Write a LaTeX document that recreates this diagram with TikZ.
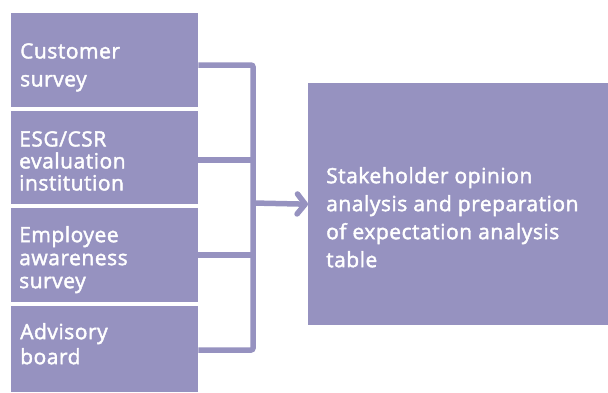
\documentclass[tikz,border=0pt]{standalone}
\usepackage{fontspec}
\setsansfont{Open Sans}[FakeBold = 2, LetterSpace = 2.5]
\usetikzlibrary{arrows.meta}
\usetikzlibrary{calc}
\definecolor{boxPurple}{RGB}{150,146,192}

\begin{document}
\begin{tikzpicture}[x = 1pt, y = -1pt, font=\sffamily]
	\tikzstyle{BoxStyle}=[fill = boxPurple, draw = none, anchor = north west, inner sep = 0pt, minimum width = 187pt]
	\tikzstyle{TextStyle}=[text = white, anchor = north west, inner sep = 0pt, align = left]
	\tikzstyle{LinkStyle}=[draw = boxPurple, line width = 5.5pt, rounded corners = 2pt]
	\useasboundingbox (0,0) rectangle (608,392);
	\node[BoxStyle, minimum height = 94pt] (b1) at (11,13) {};
	\node[BoxStyle, minimum height = 93pt] (b2) at (11,111) {};
	\node[BoxStyle, minimum height = 94pt] (b3) at (11,208) {};
	\node[BoxStyle, minimum height = 86pt] (b4) at (11,306) {};
	\node[BoxStyle, minimum width = 300pt, minimum height = 242pt] (main) at (308,83) {};
	\node[TextStyle, font = \sffamily\fontsize{21}{28}\selectfont] (t1) at ($(b1.north west)+(9,30)$) {Customer\\survey};
	\node[TextStyle, font = \sffamily\fontsize{21}{22}\selectfont] (t2) at ($(b2.north west)+(8,20)$) {ESG/CSR\\evaluation\\institution};
	\node[TextStyle, font = \sffamily\fontsize{21}{23}\selectfont] (t3) at ($(b3.north west)+(8,18)$) {Employee\\awareness\\survey};
	\node[TextStyle, font = \sffamily\fontsize{21}{25}\selectfont] (t4) at ($(b4.north west)+(9,17)$) {Advisory\\board};
	\node[TextStyle, font = \sffamily\fontsize{21}{28}\selectfont] (tm) at ($(main.north west)+(18,84)$) {Stakeholder opinion\\analysis and preparation\\of expectation analysis\\table};
	\coordinate (j1) at (253,65);
	\coordinate (j2) at (253,160);
	\coordinate (j3) at (253,255);
	\coordinate (j4) at (253,350);
	\coordinate (jm) at (253,203);
	\draw[LinkStyle] (b1.east |- j1) -| (j4) -- (b4.east |- j4);
	\draw[LinkStyle] (b2.east |- j2) -- (j2);
	\draw[LinkStyle] (b3.east |- j3) -- (j3);
	\draw[LinkStyle, -{Straight Barb[length = 8pt, width = 20pt, round]}] (jm) -- (main.west);
\end{tikzpicture}
\end{document}
